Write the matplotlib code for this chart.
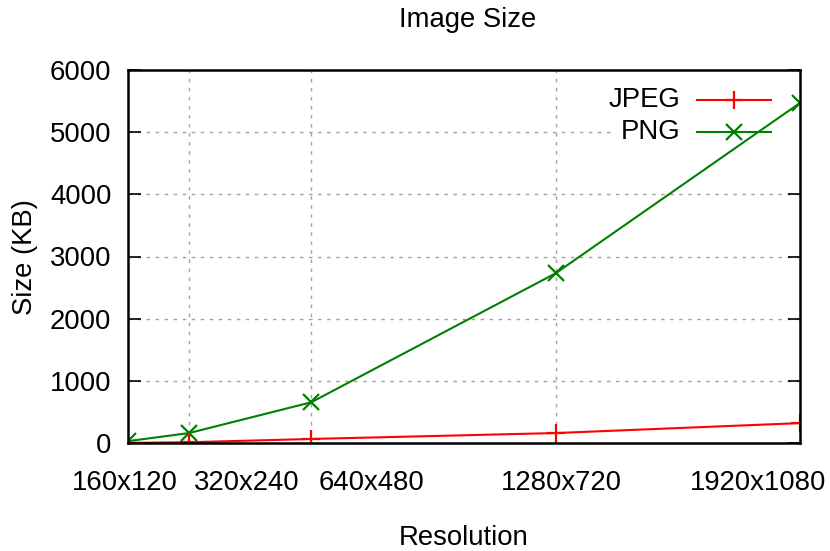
import matplotlib
matplotlib.use("Agg")
import matplotlib.pyplot as plt
from matplotlib.patches import Rectangle
from matplotlib.lines import Line2D

plt.rcParams['font.family'] = ['Liberation Sans', 'DejaVu Sans']

widths = [160, 320, 640, 1280, 1920]
tick_labels = ["160x120", "320x240", "640x480", "1280x720", "1920x1080"]
jpeg = [2, 12, 65, 160, 320]
png = [30, 160, 655, 2730, 5470]

# label centres in axes fraction (as drawn in the reference)
label_pos = [-0.005, 0.176, 0.362, 0.645, 0.938]

FS = 19.8
fig = plt.figure(figsize=(8.30, 5.51), dpi=100)
ax = fig.add_axes([128/830, 1 - 443/551, 672/830, 373/551])

ax.set_xlim(160, 1920)
ax.set_ylim(0, 6000)

# grid
for xv in widths[1:-1]:
    ax.axvline(xv, color='#a0a0a0', lw=1.0, ls=(0, (2.5, 4)), zorder=1)
for yv in range(1000, 6000, 1000):
    ax.axhline(yv, color='#a0a0a0', lw=1.0, ls=(0, (2.5, 4)), zorder=1)

# opaque legend box
ax.add_patch(Rectangle((0.72, 0.78), 0.30, 0.23, transform=ax.transAxes,
                       facecolor='white', edgecolor='none', zorder=2))

ax.plot(widths, jpeg, color='#ff0000', lw=1.5, marker='+', ms=13, mew=1.6,
        zorder=4)
ax.plot(widths, png, color='#008000', lw=1.5, marker='x', ms=11, mew=1.6,
        zorder=3)

# legend
legend_rows = [("JPEG", '#ff0000', '+', 13), ("PNG", '#008000', 'x', 11)]
row_y = [0.9196, 0.8338]
for (name, col, mk, ms), yy in zip(legend_rows, row_y):
    ax.add_line(Line2D([0.847, 0.957], [yy, yy], transform=ax.transAxes,
                       color=col, lw=1.5, zorder=5))
    ax.add_line(Line2D([0.902], [yy], transform=ax.transAxes, color=col,
                       marker=mk, ms=ms, mew=1.6, zorder=5))
    ax.text(0.822, yy, name, transform=ax.transAxes, ha='right', va='center',
            fontsize=FS, zorder=6)

# ticks
ax.set_xticks(widths[1:-1])
ax.set_xticklabels([])
ax.set_yticks(range(0, 6001, 1000))
ax.tick_params(axis='y', direction='in', length=9, width=1.2, left=True,
               right=True, labelsize=FS, pad=12)
ax.tick_params(axis='x', direction='in', length=9, width=1.2, top=False,
               labelsize=FS)
for lbl, xp in zip(tick_labels, label_pos):
    ax.text(xp, -0.107, lbl, transform=ax.transAxes, ha='center', va='center',
            fontsize=FS)

for s in ax.spines.values():
    s.set_linewidth(1.8)
    s.set_zorder(7)

fig.text(468/830, 1 - 20/551, "Image Size", ha='center', va='center', fontsize=FS)
fig.text(25/830, 1 - 257/551, "Size (KB)", ha='center', va='center',
         rotation=90, fontsize=FS)
fig.text(464/830, 1 - 538/551, "Resolution", ha='center', va='center', fontsize=FS)

fig.savefig("out.png", dpi=100)
